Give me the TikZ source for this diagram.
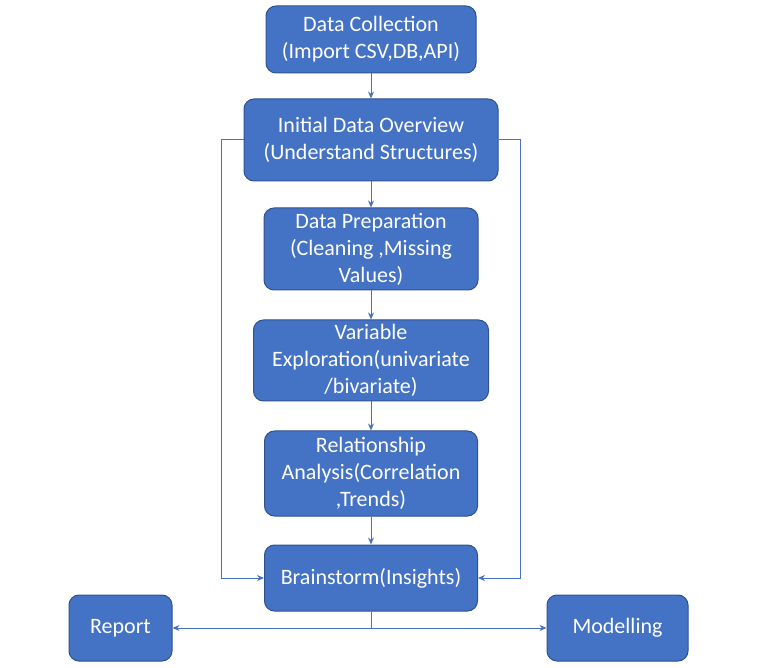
\documentclass[tikz,border=0pt]{standalone}
\usepackage{fontspec}
\setmainfont{Carlito}
\usepackage{tikz}
\usetikzlibrary{arrows,positioning}
\usetikzlibrary{arrows.meta}
\definecolor{boxFill}{HTML}{4472C4}
\definecolor{boxLine}{HTML}{2F528F}
\definecolor{flowColor}{HTML}{4472C4}

\begin{document}
\begin{tikzpicture}[x=1pt,y=-1pt,->,>={Stealth[length=7pt,width=6pt]},
stepbox/.style={draw=boxLine, fill=boxFill, line width=1pt, rounded corners=10pt, text=white, align=center, inner sep=0, font=\fontsize{22}{27}\selectfont},
flow/.style={draw=flowColor, line width=1pt}]
\useasboundingbox (0,0) rectangle (761,668);
\node[stepbox, minimum width=210pt, minimum height=67pt] (collect) at (371, 39.5) {Data Collection\\(Import CSV,DB,API)};
\node[stepbox, minimum width=254pt, minimum height=82pt] (overview) at (371, 140) {Initial Data Overview\\(Understand Structures)};
\node[stepbox, minimum width=214pt, minimum height=82pt] (prep) at (371, 249) {Data Preparation\\(Cleaning ,Missing\\Values)};
\node[stepbox, minimum width=235pt, minimum height=81pt] (explore) at (371, 360.5) {Variable\\Exploration(univariate\\/bivariate)};
\node[stepbox, minimum width=213pt, minimum height=85pt] (relation) at (371, 473.5) {Relationship\\Analysis(Correlation\\,Trends)};
\node[stepbox, minimum width=213pt, minimum height=66pt] (brain) at (371, 578) {Brainstorm(Insights)};
\node[stepbox, minimum width=103pt, minimum height=66pt] (report) at (120.5, 628) {Report};
\node[stepbox, minimum width=141pt, minimum height=66pt] (model) at (617.5, 628) {Modelling};
\coordinate (split) at (371, 628);
\path (collect) edge[flow] (overview);
\path (overview) edge[flow] (prep);
\path (prep) edge[flow] (explore);
\path (explore) edge[flow] (relation);
\path (relation) edge[flow] (brain);
\draw[flow] (overview.west) -- (221, 140) -- (221, 578) -- (brain.west);
\draw[flow] (overview.east) -- (520, 140) -- (520, 578) -- (brain.east);
\draw[flow,-] (brain.south) -- (split);
\path (split) edge[flow] (report.east);
\path (split) edge[flow] (model.west);
\end{tikzpicture}
\end{document}
